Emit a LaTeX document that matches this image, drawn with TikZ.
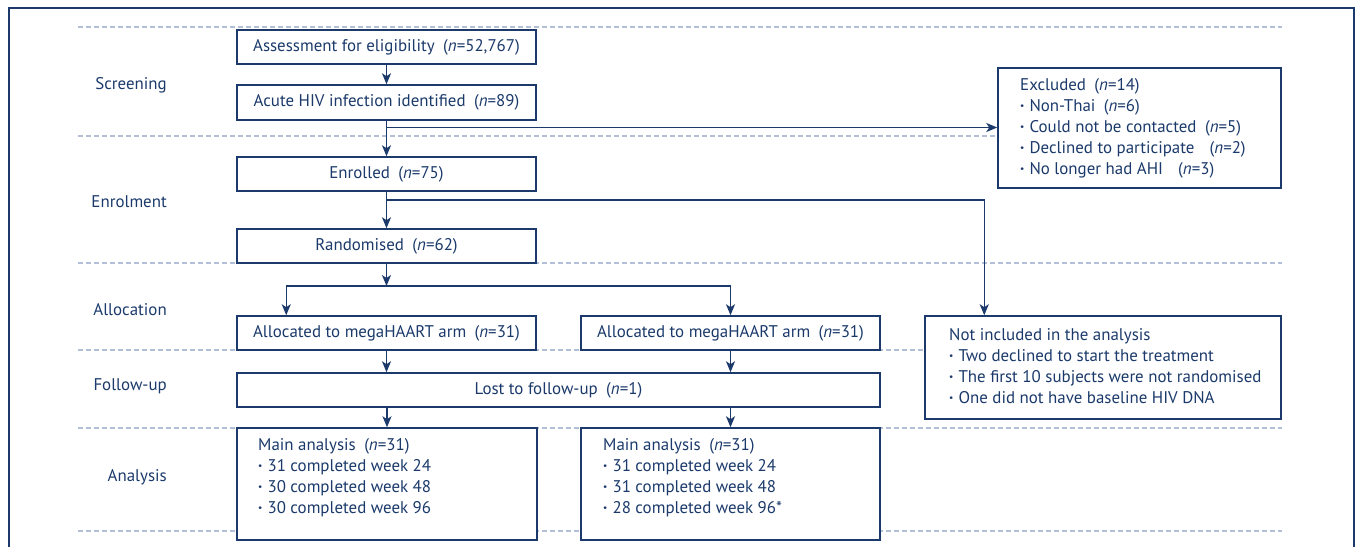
\documentclass[tikz,border=0pt]{standalone}
\usepackage{fontspec}
\setmainfont{PT Sans}
\usetikzlibrary{arrows.meta,calc}
\definecolor{navy}{HTML}{1B3A6B}
\definecolor{dashc}{HTML}{B3BFD6}
\newcommand{\bul}{\textbf{·}\hspace{0.3em}}
\begin{document}
\begin{tikzpicture}[x=1pt,y=-1pt,
  font=\fontsize{16.9}{21}\selectfont, text=navy,
  box/.style={draw=navy, fill=white, line width=1.5pt, inner sep=0pt},
  txt/.style={anchor=west, align=left, inner sep=0pt},
  arr/.style={draw=navy, line width=1.5pt, -{Stealth[length=11pt,width=9pt,inset=3pt]}},
  sepline/.style={draw=dashc, line width=1.2pt, dash pattern=on 5pt off 3pt},
  stage/.style={anchor=east, inner sep=0pt}]
\useasboundingbox (0,0) rectangle (1357,547);
% dashed separators
\foreach \yy in {27,136,263,350,428,531}{
  \draw[sepline] (78,\yy) -- (1282,\yy);
}
% frame
\draw[navy, line width=2pt] (9,547) -- (9,8) -- (1353.5,8) -- (1353.5,547);
% stage labels
\node[stage] (s1) at (167,85) {Screening};
\node[stage] (s2) at (167,202) {Enrolment};
\node[stage] (s3) at (167,310) {Allocation};
\node[stage] (s4) at (167,386) {Follow-up};
\node[stage] (s5) at (167,477) {Analysis};
% main column
\node[box, minimum width=299pt, minimum height=34pt] (assess) at (386.5,47) {Assessment for eligibility\hspace{0.5em}(\textit{n}=52,767)};
\node[box, minimum width=299pt, minimum height=35pt] (acute) at (386.5,102.5) {Acute HIV infection identified\hspace{0.5em}(\textit{n}=89)};
\node[box, minimum width=299pt, minimum height=34pt] (enrol) at (386.5,174) {Enrolled\hspace{0.5em}(\textit{n}=75)};
\node[box, minimum width=299pt, minimum height=34pt] (rand) at (386.5,246) {Randomised\hspace{0.5em}(\textit{n}=62)};
\node[box, minimum width=299pt, minimum height=34pt] (allocL) at (386.5,333) {Allocated to megaHAART arm\hspace{0.5em}(\textit{n}=31)};
\node[box, minimum width=299pt, minimum height=34pt] (allocR) at (730.5,333) {Allocated to megaHAART arm\hspace{0.5em}(\textit{n}=31)};
\node[box, minimum width=643pt, minimum height=34pt] (lost) at (558.5,390) {Lost to follow-up\hspace{0.5em}(\textit{n}=1)};
\node[box, minimum width=300pt, minimum height=112pt] (mainL) at (387,484) {};
\node[box, minimum width=299pt, minimum height=112pt] (mainR) at (730.5,484) {};
\node[box, minimum width=283pt, minimum height=120pt] (excl) at (1139.5,128) {};
\node[box, minimum width=356pt, minimum height=103pt] (notinc) at (1103,367.5) {};
% multi-line texts
\node[txt] (mainLt) at (258,478) {Main analysis\hspace{0.5em}(\textit{n}=31)\\
\bul 31 completed week 24\\
\bul 30 completed week 48\\
\bul 30 completed week 96};
\node[txt] (mainRt) at (603,478) {Main analysis\hspace{0.5em}(\textit{n}=31)\\
\bul 31 completed week 24\\
\bul 31 completed week 48\\
\bul 28 completed week 96*};
\node[txt] (exclt) at (1020,128.5) {Excluded\hspace{0.5em}(\textit{n}=14)\\
\bul Non-Thai\hspace{0.5em}(\textit{n}=6)\\
\bul Could not be contacted\hspace{0.5em}(\textit{n}=5)\\
\bul Declined to participate\hspace{0.9em}(\textit{n}=2)\\
\bul No longer had AHI\hspace{0.9em}(\textit{n}=3)};
\node[txt] (notinct) at (949,366.5) {Not included in the analysis\\
\bul Two declined to start the treatment\\
\bul The first 10 subjects were not randomised\\
\bul One did not have baseline HIV DNA};
% connectors
\coordinate (b1) at (386.5,127.5);
\coordinate (b2) at (386.5,200);
\coordinate (split) at (386.5,286);
\draw[arr] (assess.south) -- (acute.north);
\draw[arr] (acute.south) -- (enrol.north);
\draw[arr] (b1) -- (b1 -| excl.west);
\draw[arr] (enrol.south) -- (rand.north);
\draw[arr] (b2) -| ([xshift=60pt]notinc.north west);
\draw[arr] (rand.south) -- (split);
\draw[arr] (split) -| ([xshift=50pt]allocL.north west);
\draw[arr] (split) -| (allocR.north);
\draw[arr] (allocL.south) -- (allocL.south |- lost.north);
\draw[arr] (allocR.south) -- (allocR.south |- lost.north);
\draw[arr] (mainL.north |- lost.south) -- (mainL.north);
\draw[arr] (mainR.north |- lost.south) -- (mainR.north);
\end{tikzpicture}
\end{document}
